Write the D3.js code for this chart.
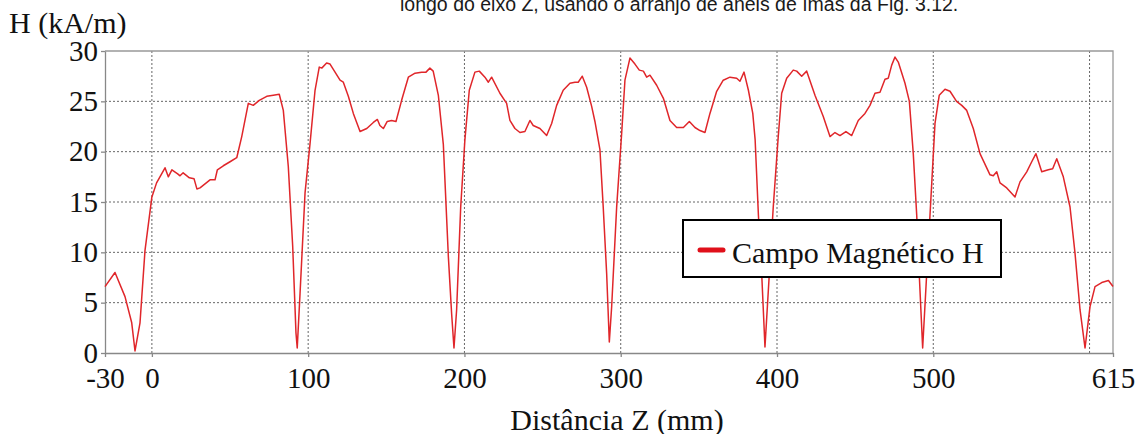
<!DOCTYPE html>
<html lang="pt">
<head>
    <meta charset="UTF-8">
    <script src="https://d3js.org/d3.v7.min.js"></script>
    <title>Campo Magnético H ao longo do eixo Z</title>
    <style>
        body {
            margin: 0;
            background: #fff;
        }
        svg text {
            font-family: "Liberation Serif", "Times New Roman", serif;
            fill: #111;
        }
        .caption {
            font-family: "Liberation Sans", Arial, sans-serif !important;
            font-size: 19.5px;
        }
        .grid line {
            stroke: #666;
            stroke-width: 1;
            stroke-dasharray: 2, 2;
        }
        .axis path, .axis line {
            stroke: #888;
            stroke-width: 1.3;
        }
        .axis text {
            font-size: 29px;
        }
    </style>
</head>
<body>
    <svg width="1140" height="434"></svg>
    <script>
        // Distância Z (mm)
        const zData = [
            -30, -23.6, -17.2, -12.9, -10.8, -7.6, -4.4, 0, 3, 8.4, 10.5, 12.8, 16.5, 18, 20, 24, 27, 28.8, 30.8,
            37.2, 40.4, 41.9, 45.7, 50, 54.3, 57.5, 61.7, 64.9, 68.7, 73.5, 77.7, 81.5, 84.1, 87.3, 90.1, 92.2, 93,
            94.8, 98, 101.2, 104.4, 107.1, 108.7, 111.8, 114, 120.4, 122.5, 125.7, 128.9, 133.2, 137.5, 141.7, 144.3,
            145.9, 148.1, 150.6, 153.4, 156.2, 159.8, 164.1, 168.4, 172.6, 175.4, 177.9, 180, 183.3, 186.5, 189.7,
            191.8, 193.3, 195, 197.6, 200.3, 203.1, 206.7, 209.5, 213.1, 215.3, 217.4, 222.7, 227, 229.1, 232.3,
            235.5, 238.7, 241.9, 244, 248.3, 252.6, 255.8, 259, 263.2, 267.5, 270.7, 272.8, 275.4, 278.2, 281.4,
            283.5, 286.7, 288.8, 291, 292.7, 294.2, 297.4, 300.6, 302.7, 305.9, 309.1, 311.9, 314.5, 316.6, 318.7,
            323, 327.3, 331.5, 335.8, 340.1, 343.9, 347.5, 350.7, 353.9, 357.1, 361.4, 365.6, 369.9, 374.2, 376.3,
            378.9, 381.7, 384.5, 386, 388.1, 390.2, 392.3, 395.1, 397.6, 400.8, 403, 406.2, 410.4, 412.6, 415.8,
            419, 424.3, 429.6, 433.9, 437.1, 440.3, 444.1, 447.8, 452, 456.3, 459.5, 462.7, 465.9, 469.1, 471.2,
            473.4, 475.5, 477.6, 481.9, 484.7, 487.2, 489.4, 491, 493.2, 495.8, 497.9, 501.1, 503.8, 507.5, 510.7,
            514.9, 518.2, 521.4, 525.6, 529.9, 536.3, 538.4, 540.6, 542.7, 547, 552.3, 555.5, 559.8, 563, 565.7,
            569.4, 573.6, 576.4, 579, 583.2, 587.5, 590.7, 593.9, 597.1, 600.3, 603.5, 607.8, 612.1, 615
        ];

        // H (kA/m)
        const hData = [
            6.6, 8.0, 5.6, 3.0, 0.2, 3.0, 10.2, 15.5, 16.9, 18.4, 17.5, 18.2, 17.8, 17.6, 17.9, 17.4, 17.3, 16.3, 16.4,
            17.2, 17.2, 18.2, 18.6, 19.0, 19.4, 21.5, 24.8, 24.6, 25.1, 25.5, 25.6, 25.7, 24.1, 18.5, 10.6, 2.0, 0.5,
            5.9, 15.9, 20.8, 26.1, 28.4, 28.3, 28.8, 28.7, 27.1, 26.9, 25.5, 23.8, 22.0, 22.3, 22.9, 23.2,
            22.6, 22.3, 23.0, 23.1, 23.0, 25.1, 27.4, 27.8, 27.9, 27.9, 28.3, 28.0, 25.6, 20.7, 9.6,
            3.9, 0.5, 4.3, 14.5, 21.2, 26.1, 27.9, 28.0, 27.4, 26.9, 27.4, 25.8, 24.8, 23.1, 22.3,
            21.9, 22.0, 23.1, 22.6, 22.3, 21.6, 22.8, 24.6, 26.1, 26.8, 26.9, 26.9, 27.5, 26.4, 24.5,
            23.0, 20.2, 14.5, 7.9, 1.1, 4.6, 14.5, 21.8, 27.1, 29.3, 28.7, 28.1, 28.0, 27.4, 27.6,
            26.6, 25.3, 23.1, 22.4, 22.4, 23.0, 22.4, 22.1, 21.9, 23.8, 26.0, 27.1, 27.4, 27.3, 27.0,
            27.9, 26.1, 23.8, 21.2, 13.7, 7.9, 0.6, 7.9, 14.5, 21.5, 25.8, 27.3, 28.1, 28.0, 27.5,
            28.0, 25.6, 23.5, 21.5, 21.9, 21.6, 22.0, 21.6, 23.1, 23.8, 24.6, 25.8, 25.9, 27.2, 27.3,
            28.6, 29.4, 28.9, 26.8, 25.0, 19.8, 13.7, 7.9, 0.5, 7.9, 13.7, 22.8, 25.6, 26.2, 26.0,
            25.0, 24.6, 24.1, 22.3, 19.8, 17.7, 17.6, 18.0, 16.9, 16.4, 15.5, 17.0, 18.0, 19.0, 19.8,
            18.0, 18.2, 18.3, 19.3, 17.5, 14.5, 9.9, 4.3, 0.5, 4.6, 6.6, 7.0, 7.2, 6.6
        ];

        const xTicks = [-30, 0, 100, 200, 300, 400, 500, 615];
        const xGrid = [0, 100, 200, 300, 400, 500, 600];
        const yTicks = [0, 5, 10, 15, 20, 25, 30];
        const yGrid = [5, 10, 15, 20, 25];

        const seriesName = "Campo Magnético H";
        const caption = "longo do eixo Z, usando o arranjo de anéis de ímãs da Fig. 3.12.";

        const data = zData.map((z, i) => ({ z: z, h: hData[i] }));

        const margin = { top: 51, right: 27, bottom: 81, left: 105 };
        const width = 1140;
        const height = 434;

        const svg = d3.select("svg");

        const x = d3.scaleLinear()
            .domain([-30, 615])
            .range([margin.left, width - margin.right]);

        const y = d3.scaleLinear()
            .domain([0, 30])
            .range([height - margin.bottom, margin.top]);

        // caption cut off at the top (as in the source page)
        svg.append("text")
            .attr("class", "caption")
            .attr("x", 400)
            .attr("y", 11)
            .style("fill", "#1a1a1a")
            .text(caption);

        // gridlines
        svg.append("g")
            .attr("class", "grid")
            .selectAll("line")
            .data(yGrid)
            .join("line")
            .attr("x1", x(-30))
            .attr("x2", x(615))
            .attr("y1", d => y(d))
            .attr("y2", d => y(d));

        svg.append("g")
            .attr("class", "grid")
            .selectAll("line")
            .data(xGrid)
            .join("line")
            .attr("x1", d => x(d))
            .attr("x2", d => x(d))
            .attr("y1", y(0))
            .attr("y2", y(30));

        // frame top/right
        svg.append("path")
            .attr("d", `M${x(-30)},${y(30)}H${x(615)}V${y(0)}`)
            .attr("fill", "none")
            .attr("stroke", "#999")
            .attr("stroke-width", 1.3);

        // axes (plain hyphen for negatives)
        svg.append("g")
            .attr("class", "axis")
            .attr("transform", `translate(0,${y(0)})`)
            .call(d3.axisBottom(x).tickValues(xTicks).tickFormat(d => String(d))
                .tickSize(4).tickPadding(10).tickSizeOuter(0));

        svg.append("g")
            .attr("class", "axis")
            .attr("transform", `translate(${x(-30)},0)`)
            .call(d3.axisLeft(y).tickValues(yTicks).tickFormat(d => String(d))
                .tickSize(4).tickPadding(3).tickSizeOuter(0));

        // curve
        const line = d3.line()
            .x(d => x(d.z))
            .y(d => y(d.h));

        svg.append("path")
            .datum(data)
            .attr("d", line)
            .attr("fill", "none")
            .attr("stroke", "#e0262a")
            .attr("stroke-width", 1.5)
            .attr("stroke-linejoin", "round");

        // axis titles
        svg.append("text")
            .attr("x", 9)
            .attr("y", 33)
            .style("font-size", "30px")
            .text("H (kA/m)");

        svg.append("text")
            .attr("x", 617)
            .attr("y", 430)
            .attr("text-anchor", "middle")
            .style("font-size", "30px")
            .text("Distância Z (mm)");

        // legend
        const legend = svg.append("g");
        legend.append("rect")
            .attr("x", 683)
            .attr("y", 220)
            .attr("width", 318)
            .attr("height", 57)
            .attr("fill", "#fff")
            .attr("stroke", "#000")
            .attr("stroke-width", 2);
        legend.append("line")
            .attr("x1", 700)
            .attr("x2", 723)
            .attr("y1", 250)
            .attr("y2", 250)
            .attr("stroke", "#e0101a")
            .attr("stroke-width", 5)
            .attr("stroke-linecap", "round");
        legend.append("text")
            .attr("x", 732)
            .attr("y", 263)
            .style("font-size", "30px")
            .text(seriesName);
    </script>
</body>
</html>
